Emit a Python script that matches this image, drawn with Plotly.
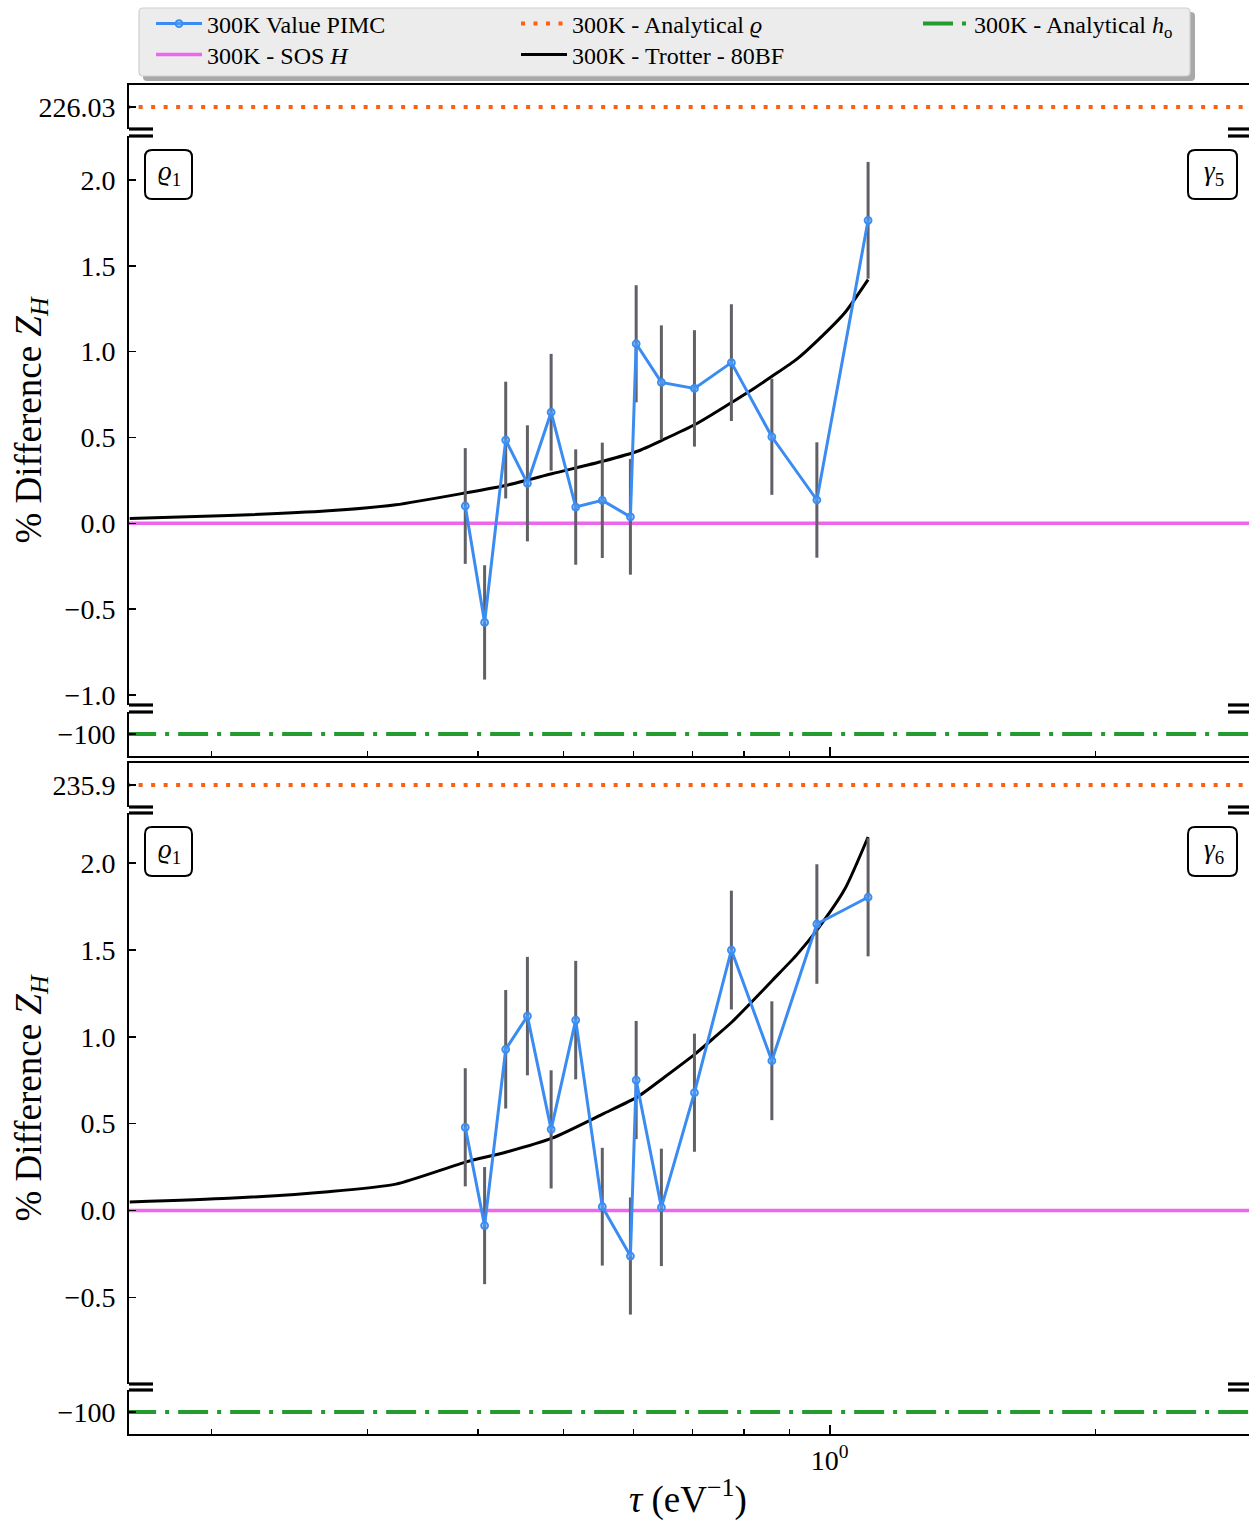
import math
import plotly.graph_objects as go

# ---------------- data ----------------
tau_pimc = [0.387, 0.407, 0.430, 0.455, 0.484, 0.516, 0.553, 0.595, 0.604,
            0.645, 0.703, 0.774, 0.860, 0.967, 1.105]
pimc_g5 = [0.101, -0.577, 0.485, 0.233, 0.647, 0.095, 0.134, 0.038, 1.046,
           0.821, 0.786, 0.936, 0.504, 0.136, 1.765]
err_g5 = [0.337, 0.333, 0.340, 0.338, 0.340, 0.336, 0.336, 0.337, 0.341,
          0.332, 0.339, 0.340, 0.338, 0.336, 0.340]
pimc_g6 = [0.479, -0.087, 0.928, 1.119, 0.467, 1.096, 0.022, -0.262, 0.751,
           0.018, 0.678, 1.499, 0.862, 1.649, 1.803]
err_g6 = [0.340, 0.337, 0.341, 0.341, 0.340, 0.341, 0.339, 0.337, 0.340,
          0.338, 0.340, 0.342, 0.342, 0.344, 0.340]

tau_trotter = [0.1615, 0.209, 0.271, 0.323, 0.388, 0.431, 0.486, 0.555, 0.606,
               0.650, 0.705, 0.740, 0.775, 0.820, 0.862, 0.917, 0.969, 1.040, 1.105]
trotter_g5 = [0.028, 0.045, 0.073, 0.108, 0.178, 0.222, 0.290, 0.363, 0.420,
              0.490, 0.577, 0.641, 0.705, 0.784, 0.859, 0.955, 1.066, 1.227, 1.420]
trotter_g6 = [0.049, 0.070, 0.108, 0.152, 0.280, 0.337, 0.418, 0.558, 0.654,
              0.767, 0.903, 0.995, 1.085, 1.212, 1.327, 1.470, 1.620, 1.850, 2.150]

tau_span = [0.16, 3.0]          # horizontal reference lines span the axis
sos_value = [0.0, 0.0]
analytic_rho_g5 = [226.03, 226.03]
analytic_rho_g6 = [235.9, 235.9]
analytic_ho = [-100.0, -100.0]

panel_tags = [("<i>ϱ</i><sub>1</sub>", "<i>γ</i><sub>5</sub>"),
              ("<i>ϱ</i><sub>1</sub>", "<i>γ</i><sub>6</sub>")]

main_ticks = [-1.0, -0.5, 0.0, 0.5, 1.0, 1.5, 2.0]
main_ticktext = ["−1.0", "−0.5", "0.0", "0.5", "1.0", "1.5", "2.0"]
minor_xticks = [0.2, 0.3, 0.4, 0.5, 0.6, 0.7, 0.8, 0.9, 2.0, 3.0]

# ---------------- style / geometry ----------------
W, H = 1249, 1524
LEFT = 129
FONT = "Liberation Serif"
BLUE = "#3a8cf2"
GRAY = "#606066"
PINK = "#ee66ee"
ORANGE = "#ff5f0f"
GREEN = "#239b2f"


def px_x(px):               # screen px -> paper x
    return (px - LEFT) / (W - LEFT)


def px_y(py):               # screen px -> paper y
    return 1 - py / H


def dom(top_px, bot_px):
    return [px_y(bot_px), px_y(top_px)]


def rounded_path(l, t, r, b, rad):
    pts = [("M", [(l + rad, t)]), ("L", [(r - rad, t)]), ("Q", [(r, t), (r, t + rad)]),
           ("L", [(r, b - rad)]), ("Q", [(r, b), (r - rad, b)]), ("L", [(l + rad, b)]),
           ("Q", [(l, b), (l, b - rad)]), ("L", [(l, t + rad)]), ("Q", [(l, t), (l + rad, t)])]
    s = ""
    for cmd, pl in pts:
        s += cmd + " " + " ".join("%.6f,%.6f" % (px_x(x), px_y(y)) for x, y in pl) + " "
    return s + "Z"


fig = go.Figure()

panels = [
    dict(ax=("", "2", "3"), pimc=pimc_g5, err=err_g5, trot=trotter_g5,
         rho=analytic_rho_g5, show=True),
    dict(ax=("4", "5", "6"), pimc=pimc_g6, err=err_g6, trot=trotter_g6,
         rho=analytic_rho_g6, show=False),
]

for p in panels:
    a_top, a_main, a_bot = p["ax"]
    fig.add_trace(go.Scatter(
        x=tau_span, y=p["rho"], mode="lines", xaxis="x" + a_top, yaxis="y" + a_top,
        line=dict(color=ORANGE, width=4, dash="4px,8.5px"),
        name="300K - Analytical <i>ϱ</i>", legend="legend3",
        showlegend=p["show"]))
    fig.add_trace(go.Scatter(
        x=tau_span, y=sos_value, mode="lines", xaxis="x" + a_main, yaxis="y" + a_main,
        line=dict(color=PINK, width=3.5),
        name="300K - SOS <i>H</i>", legend="legend2",
        showlegend=p["show"]))
    fig.add_trace(go.Scatter(
        x=tau_trotter, y=p["trot"], mode="lines", xaxis="x" + a_main, yaxis="y" + a_main,
        line=dict(color="black", width=3, shape="spline", smoothing=0.6),
        name="300K - Trotter - 80BF", legend="legend4",
        showlegend=p["show"]))
    fig.add_trace(go.Scatter(
        x=tau_pimc, y=p["pimc"], mode="lines+markers",
        xaxis="x" + a_main, yaxis="y" + a_main,
        error_y=dict(type="data", array=p["err"], color=GRAY, thickness=3, width=0),
        line=dict(color=BLUE, width=3),
        marker=dict(size=7, color="rgba(90,160,245,0.55)", line=dict(color=BLUE, width=1.8)),
        name="300K Value PIMC", legend="legend",
        showlegend=p["show"]))
    fig.add_trace(go.Scatter(
        x=tau_span, y=analytic_ho, mode="lines", xaxis="x" + a_bot, yaxis="y" + a_bot,
        line=dict(color=GREEN, width=4, dash="30px,9px,4px,9px"),
        name="300K - Analytical <i>h</i><sub>o</sub>", legend="legend5",
        showlegend=p["show"]))

xr = [math.log10(0.1612), math.log10(2.98)]

yax_common = dict(showline=True, linecolor="black", linewidth=2, ticks="inside",
                  ticklen=7, tickwidth=1.5, tickcolor="black", showgrid=False,
                  zeroline=False, tickfont=dict(family=FONT, size=28, color="black"),
                  ticklabelstandoff=6, tickmode="array")
xax_common = dict(type="log", range=xr, showgrid=False, zeroline=False,
                  tickfont=dict(family=FONT, size=28, color="black"))

doms = {
    "": dom(85, 129), "2": dom(136, 705), "3": dom(712, 756),
    "4": dom(763, 807), "5": dom(813, 1384), "6": dom(1390, 1434),
}
yranges = {
    "": [225.03, 227.03], "2": [-1.058, 2.256], "3": [-101, -99],
    "4": [234.9, 236.9], "5": [-0.9986, 2.288], "6": [-101, -99],
}
ytv = {
    "": ([226.03], ["226.03"]),
    "2": (main_ticks, main_ticktext),
    "3": ([-100], ["−100"]),
    "4": ([235.9], ["235.9"]),
    "5": (main_ticks, main_ticktext),
    "6": ([-100], ["−100"]),
}

layout = {}
for k in ["", "2", "3", "4", "5", "6"]:
    layout["yaxis" + k] = dict(yax_common, domain=doms[k], range=yranges[k],
                               tickvals=ytv[k][0], ticktext=ytv[k][1],
                               anchor="x" + k)
    xa = dict(xax_common, anchor="y" + k)
    if k in ("", "4"):
        xa.update(side="top", showline=True, linecolor="black", linewidth=2,
                  ticks="", showticklabels=False)
    elif k in ("2", "5"):
        xa.update(showline=False, ticks="", showticklabels=False)
    else:
        xa.update(side="bottom", showline=True, linecolor="black", linewidth=2,
                  ticks="inside", ticklen=9, tickwidth=1.5, tickcolor="black",
                  tickmode="array", tickvals=[1.0], ticktext=["10<sup>0</sup>"],
                  showticklabels=(k == "6"),
                  minor=dict(ticks="inside", ticklen=5, tickwidth=1.2,
                             tickcolor="black", tickmode="array",
                             tickvals=minor_xticks, showgrid=False))
    layout["xaxis" + k] = xa

fig.update_layout(**layout)

# ---------------- broken axis marks ----------------
shapes = []
for strip_top, main, strip_bot in [("", "2", "3"), ("4", "5", "6")]:
    for (ref, yv) in [(strip_top, 0), (main, 1), (main, 0), (strip_bot, 1)]:
        for (x0, x1) in [(0, px_x(153)), (px_x(1228), 1.0)]:
            shapes.append(dict(type="line", xref="x" + main + " domain",
                               yref="y" + ref + " domain", x0=x0, x1=x1,
                               y0=yv, y1=yv, line=dict(color="black", width=3.2)))

# legend frame with shadow
shapes.append(dict(type="path", xref="paper", yref="paper",
                   path=rounded_path(143, 12, 1195, 81, 4),
                   fillcolor="#a9a9a9", line=dict(width=0), layer="above"))
shapes.append(dict(type="path", xref="paper", yref="paper",
                   path=rounded_path(139, 8, 1190, 76, 4),
                   fillcolor="#ececec", line=dict(color="#cfcfcf", width=1.2),
                   layer="above"))

# rounded label boxes
box_rows = [(150, 199), (827, 876)]
box_cols = [(145, 192), (1188, 1237)]
for (bt, bb) in box_rows:
    for (bl, br) in box_cols:
        shapes.append(dict(type="path", xref="paper", yref="paper",
                           path=rounded_path(bl, bt, br, bb, 7),
                           fillcolor="white", line=dict(color="black", width=2),
                           layer="above"))
fig.update_layout(shapes=shapes)

# ---------------- annotations ----------------
ann = []
for (bt, bb), tags, main in zip(box_rows, panel_tags, ["2", "5"]):
    for (bl, br), txt in zip(box_cols, tags):
        ann.append(dict(text=txt, xref="paper", yref="paper",
                        x=px_x((bl + br) / 2 + 1), y=px_y((bt + bb) / 2 - 1),
                        xanchor="center", yanchor="middle", showarrow=False,
                        font=dict(family=FONT, size=27, color="black")))
    ann.append(dict(text="% Difference <i>Z</i><sub><i>H</i></sub>",
                    xref="paper", yref="y" + main + " domain",
                    x=px_x(31), y=0.5, xanchor="center", yanchor="middle",
                    textangle=-90, showarrow=False,
                    font=dict(family=FONT, size=37, color="black")))
ann.append(dict(text="<i>τ</i> (eV<sup>−1</sup>)", xref="paper", yref="paper",
                x=px_x(688), y=px_y(1497), xanchor="center", yanchor="middle",
                showarrow=False, font=dict(family=FONT, size=37, color="black")))
fig.update_layout(annotations=ann)

# ---------------- legends (one entry each, placed like the reference columns) ----
leg_common = dict(orientation="v", bgcolor="rgba(0,0,0,0)", borderwidth=0,
                  font=dict(family=FONT, size=24, color="black"),
                  itemwidth=46, xanchor="left", yanchor="middle")
TEXT_OFF = 56   # text starts this many px right of the legend's left edge
fig.update_layout(
    legend=dict(leg_common, x=px_x(207 - TEXT_OFF), y=px_y(24)),
    legend2=dict(leg_common, x=px_x(207 - TEXT_OFF), y=px_y(55)),
    legend3=dict(leg_common, x=px_x(572 - TEXT_OFF), y=px_y(24)),
    legend4=dict(leg_common, x=px_x(572 - TEXT_OFF), y=px_y(55)),
    legend5=dict(leg_common, x=px_x(974 - TEXT_OFF), y=px_y(24)),
)

fig.update_layout(template="none", width=W, height=H,
                  margin=dict(l=LEFT, r=0, t=0, b=0),
                  paper_bgcolor="white", plot_bgcolor="white",
                  font=dict(family=FONT, color="black"))

# remove the page's default body margin so the figure sits at the window origin
PAGE_JS = ("document.body.style.margin='0px';document.body.style.padding='0px';"
           "document.documentElement.style.overflow='hidden';"
           "document.body.style.overflow='hidden';")
fig.write_html("out.html", post_script=PAGE_JS,
               config={"staticPlot": True, "displayModeBar": False})
